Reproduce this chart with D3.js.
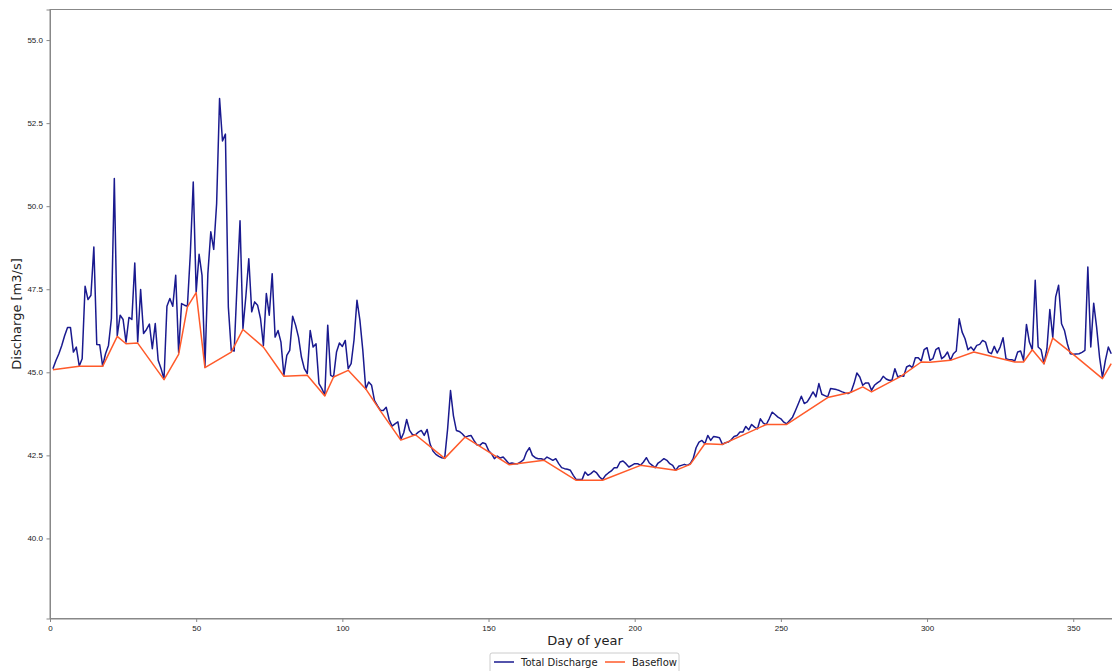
<!DOCTYPE html>
<html>
<head>
<meta charset="utf-8">
<script src="https://cdn.jsdelivr.net/npm/d3@7"></script>
<style>
  body { margin: 0; background: #fff; }
  svg { display: block; font-family: "DejaVu Sans", sans-serif; }
  .axis text { font-size: 8px; fill: #222; }
  .axis line, .axis path { stroke: #888; }
</style>
</head>
<body>
<svg width="1112" height="671"></svg>
<script>
'use strict'

// daily total discharge, day 1 .. 363 (m3/s)
var totalDischarge = [
  45.11, 45.35, 45.55, 45.80, 46.10, 46.35, 46.35, 45.61, 45.76, 45.19,
  45.41, 47.59, 47.19, 47.32, 48.77, 45.84, 45.83, 45.19, 45.56, 45.81,
  46.62, 50.83, 46.10, 46.72, 46.59, 45.91, 46.65, 46.59, 48.29, 45.91,
  47.49, 46.17, 46.29, 46.45, 45.71, 46.47, 45.36, 45.11, 44.80, 46.99,
  47.22, 46.99, 47.92, 45.60, 47.07, 47.02, 46.99, 48.57, 50.73, 47.42,
  48.55, 47.92, 45.16, 47.97, 49.23, 48.70, 50.08, 53.24, 51.96, 52.17,
  46.97, 45.66, 45.64, 47.67, 49.56, 46.32, 47.29, 48.42, 46.82, 47.12,
  47.02, 46.62, 45.81, 47.37, 46.72, 47.97, 46.06, 46.26, 45.91, 44.91,
  45.51, 45.66, 46.69, 46.42, 46.06, 45.46, 45.11, 44.96, 46.26, 45.76,
  45.86, 44.66, 44.51, 44.31, 46.42, 44.91, 44.86, 45.61, 45.88, 45.78,
  45.96, 45.11, 45.26, 45.98, 47.17, 46.57, 45.66, 44.50, 44.71, 44.61,
  44.15, 44.00, 43.86, 43.85, 43.95, 43.58, 43.38, 43.45, 43.51, 42.98,
  43.18, 43.58, 43.25, 43.12, 43.12, 43.20, 43.25, 43.10, 43.28, 42.84,
  42.63, 42.53, 42.47, 42.43, 42.41, 43.29, 44.45, 43.69, 43.25, 43.22,
  43.15, 43.05, 43.08, 43.10, 42.95, 42.82, 42.80, 42.88, 42.85, 42.65,
  42.55, 42.40, 42.48, 42.42, 42.45, 42.35, 42.25, 42.27, 42.25, 42.25,
  42.30, 42.37, 42.60, 42.73, 42.50, 42.43, 42.40, 42.40, 42.37, 42.45,
  42.40, 42.35, 42.40, 42.25, 42.13, 42.10, 42.08, 42.05, 41.90, 41.77,
  41.77, 41.77, 42.00, 41.90, 41.95, 42.03, 41.97, 41.85, 41.77, 41.90,
  41.97, 42.03, 42.13, 42.13, 42.30, 42.33, 42.25, 42.15, 42.20, 42.25,
  42.25, 42.20, 42.30, 42.43, 42.27, 42.20, 42.13, 42.27, 42.33, 42.40,
  42.35, 42.25, 42.20, 42.05, 42.17, 42.20, 42.23, 42.20, 42.25, 42.40,
  42.73, 42.90, 42.95, 42.85, 43.10, 42.95, 43.07, 43.05, 43.03, 42.83,
  42.88, 42.90, 42.97, 43.07, 43.10, 43.20, 43.20, 43.37, 43.27, 43.43,
  43.35, 43.30, 43.60, 43.47, 43.43, 43.60, 43.80, 43.73, 43.65, 43.60,
  43.50, 43.45, 43.55, 43.65, 43.85, 44.06, 44.28, 44.06, 44.11, 44.25,
  44.41, 44.26, 44.66, 44.34, 44.30, 44.26, 44.51, 44.50, 44.48, 44.45,
  44.41, 44.38, 44.36, 44.41, 44.66, 44.98, 44.86, 44.61, 44.68, 44.68,
  44.46, 44.61, 44.68, 44.74, 44.88, 44.80, 44.76, 44.76, 45.11, 44.86,
  44.90, 44.88, 45.16, 45.21, 45.14, 45.44, 45.44, 45.34, 45.68, 45.74,
  45.36, 45.41, 45.68, 45.74, 45.41, 45.48, 45.61, 45.36, 45.56, 45.64,
  46.61, 46.21, 46.01, 45.68, 45.76, 45.66, 45.81, 45.84, 45.96, 45.91,
  45.61, 45.56, 45.78, 45.58, 45.76, 46.04, 45.41, 45.38, 45.38, 45.34,
  45.61, 45.64, 45.36, 46.44, 45.91, 45.68, 47.77, 45.76, 45.68, 45.26,
  45.71, 46.89, 46.05, 47.27, 47.62, 46.46, 46.26, 45.86, 45.56, 45.54,
  45.55, 45.56, 45.60, 45.66, 48.17, 45.76, 47.08, 46.36, 45.46, 44.84,
  45.36, 45.76, 45.56
];

// baseflow turning points
var baseflowDays = [
  1, 10, 18, 23, 26, 30, 39, 44, 47, 50, 53, 62, 66, 73, 80, 88, 94, 97,
  102, 108, 113, 120, 125, 135, 142, 151, 157, 169, 180, 189, 202, 214,
  219, 224, 230, 245, 252, 266, 274, 278, 281, 291, 298, 301, 308, 316,
  330, 333, 336, 340, 343, 350, 360, 363
];
var baseflowValues = [
  45.08, 45.18, 45.18, 46.08, 45.86, 45.88, 44.78, 45.54, 46.97, 47.40,
  45.14, 45.61, 46.29, 45.76, 44.88, 44.91, 44.29, 44.86, 45.06, 44.50,
  43.84, 42.96, 43.12, 42.41, 43.05, 42.55, 42.22, 42.35, 41.75, 41.75,
  42.20, 42.05, 42.23, 42.85, 42.83, 43.43, 43.43, 44.24, 44.40, 44.56,
  44.41, 44.88, 45.31, 45.30, 45.36, 45.61, 45.31, 45.31, 45.68, 45.26,
  46.03, 45.54, 44.81, 45.26
];

var xTicks = [0, 50, 100, 150, 200, 250, 300, 350];
var yTicks = [40.0, 42.5, 45.0, 47.5, 50.0, 52.5, 55.0];
var seriesNames = ["Total Discharge", "Baseflow"];
var seriesColours = ["#1a1a8f", "#ff5a2a"];

var svg = d3.select("svg"),
  margin = { top: 9.5, left: 50 },
  plotWidth = 1070,
  plotHeight = 609;

var x = d3.scaleLinear().domain([0, 366]).range([0, plotWidth]),
  y = d3.scaleLinear().domain([37.59, 55.92]).range([plotHeight, 0]);

var g = svg.append("g")
  .attr("transform", "translate(" + margin.left + "," + margin.top + ")");

var total = totalDischarge.map(function(v, i) {
  return { day: i + 1, q: v };
});
var base = baseflowDays.map(function(d, i) {
  return { day: d, q: baseflowValues[i] };
});

var line = d3.line()
  .x(function(d) { return x(d.day); })
  .y(function(d) { return y(d.q); });

g.append("path")
  .datum(total)
  .attr("fill", "none")
  .attr("stroke", seriesColours[0])
  .attr("stroke-width", 1.5)
  .attr("stroke-linejoin", "round")
  .attr("d", line);

g.append("path")
  .datum(base)
  .attr("fill", "none")
  .attr("stroke", seriesColours[1])
  .attr("stroke-width", 1.5)
  .attr("stroke-linejoin", "round")
  .attr("d", line);

// frame
g.append("rect")
  .attr("width", plotWidth)
  .attr("height", plotHeight)
  .attr("fill", "none")
  .attr("stroke", "#888");

g.append("g")
  .attr("class", "axis")
  .attr("transform", "translate(0," + plotHeight + ")")
  .call(d3.axisBottom(x).tickValues(xTicks).tickSize(3.5).tickPadding(3.5).tickFormat(d3.format("d")));

g.append("g")
  .attr("class", "axis")
  .call(d3.axisLeft(y).tickValues(yTicks).tickSize(3.5).tickPadding(3.5).tickFormat(d3.format(".1f")));

svg.append("text")
  .attr("x", margin.left + x(183))
  .attr("y", 645)
  .attr("text-anchor", "middle")
  .attr("font-size", 13)
  .attr("fill", "#222")
  .text("Day of year");

svg.append("text")
  .attr("transform", "translate(21," + (margin.top + plotHeight / 2) + ") rotate(-90)")
  .attr("text-anchor", "middle")
  .attr("font-size", 13)
  .attr("fill", "#222")
  .text("Discharge [m3/s]");

// legend
var legend = svg.append("g").attr("transform", "translate(490,653)");
legend.append("rect")
  .attr("width", 189)
  .attr("height", 22)
  .attr("rx", 2)
  .attr("fill", "#fff")
  .attr("stroke", "#ccc");

var legendX = [4, 115];
seriesNames.forEach(function(name, i) {
  legend.append("line")
    .attr("x1", legendX[i]).attr("x2", legendX[i] + 20)
    .attr("y1", 9).attr("y2", 9)
    .attr("stroke", seriesColours[i])
    .attr("stroke-width", 1.5);
  legend.append("text")
    .attr("x", legendX[i] + 27)
    .attr("y", 12.5)
    .attr("font-size", 10)
    .attr("fill", "#222")
    .text(name);
});
</script>
</body>
</html>
